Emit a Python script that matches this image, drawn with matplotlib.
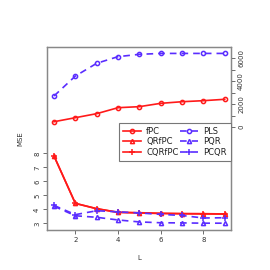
import numpy as np
import matplotlib
matplotlib.use("Agg")
import matplotlib.pyplot as plt

L = np.arange(1, 10)

# top panel (right axis)
fpc = [460, 810, 1160, 1680, 1770, 2060, 2200, 2290, 2410]
pls = [2700, 4430, 5540, 6120, 6320, 6400, 6400, 6400, 6400]

# bottom panel (left axis)
qrfpc = [7.82, 4.43, 4.05, 3.79, 3.76, 3.72, 3.70, 3.69, 3.67]
cqrfpc = [7.80, 4.42, 4.04, 3.78, 3.74, 3.70, 3.68, 3.67, 3.66]
pqr = [4.22, 3.54, 3.43, 3.24, 3.10, 3.04, 3.03, 3.01, 3.01]
pcqr = [4.28, 3.62, 3.90, 3.82, 3.74, 3.64, 3.56, 3.38, 3.40]

red = "#ff1a1a"
blue = "#5a2dff"

fig = plt.figure(figsize=(2.7, 2.7), dpi=100)
ax = fig.add_axes([0.174, 0.148, 0.682, 0.678])
ax2 = ax.twinx()

lw = 1.2
ms = 3
h1, = ax2.plot(L, fpc, color=red, lw=lw, marker="o", ms=ms, mfc="none", mew=1.1)
h4, = ax2.plot(L, pls, color=blue, lw=lw, ls=(0, (4, 3)), marker="o", ms=ms, mfc="none", mew=1.1)
h2, = ax.plot(L, qrfpc, color=red, lw=lw, marker="^", ms=ms, mfc="none", mew=1.1)
h3, = ax.plot(L, cqrfpc, color=red, lw=lw, marker="+", ms=4.5, mew=1.1)
h5, = ax.plot(L, pqr, color=blue, lw=lw, ls=(0, (4, 3)), marker="^", ms=ms, mfc="none", mew=1.1)
h6, = ax.plot(L, pcqr, color=blue, lw=lw, ls=(0, (4, 3)), marker="+", ms=4.5, mew=1.1)

ax.set_xlim(0.67, 9.3)
ax.set_ylim(2.52, 15.6)
ax2.set_ylim(-8960, 6960)

ax.set_xticks([2, 4, 6, 8])
ax.set_yticks([3, 4, 5, 6, 7, 8])
ax2.set_yticks(np.arange(0, 7000, 1000))
ax2.set_yticklabels(["0", "", "2000", "", "4000", "", "6000"])

for a in (ax, ax2):
    for s in a.spines.values():
        s.set_color("#888888")
        s.set_linewidth(0.9)
    a.tick_params(labelsize=5, length=3, width=0.6, color="#555555", pad=2, labelcolor="#333333")

for lab in ax.get_yticklabels():
    lab.set_rotation(90)
    lab.set_va("center")
for lab in ax2.get_yticklabels():
    lab.set_rotation(90)
    lab.set_va("center")

ax.set_xlabel("L", fontsize=5, labelpad=9, color="#333333")
ax.set_ylabel("MSE", fontsize=5, labelpad=8, color="#333333")

leg = ax2.legend([h1, h2, h3, h4, h5, h6],
                 ["fPC", "QRfPC", "CQRfPC", "PLS", "PQR", "PCQR"],
                 ncol=2, loc="upper right", bbox_to_anchor=(1.0, 0.585),
                 fontsize=6, frameon=True, fancybox=False, framealpha=1,
                 edgecolor="#777777", handlelength=2.2, handletextpad=0.6,
                 columnspacing=0.2, labelspacing=0.15, borderpad=0.5,
                 borderaxespad=0)
leg.get_frame().set_linewidth(0.8)
for t in leg.get_texts():
    t.set_color("#222222")

fig.savefig("out.png", dpi=100)
